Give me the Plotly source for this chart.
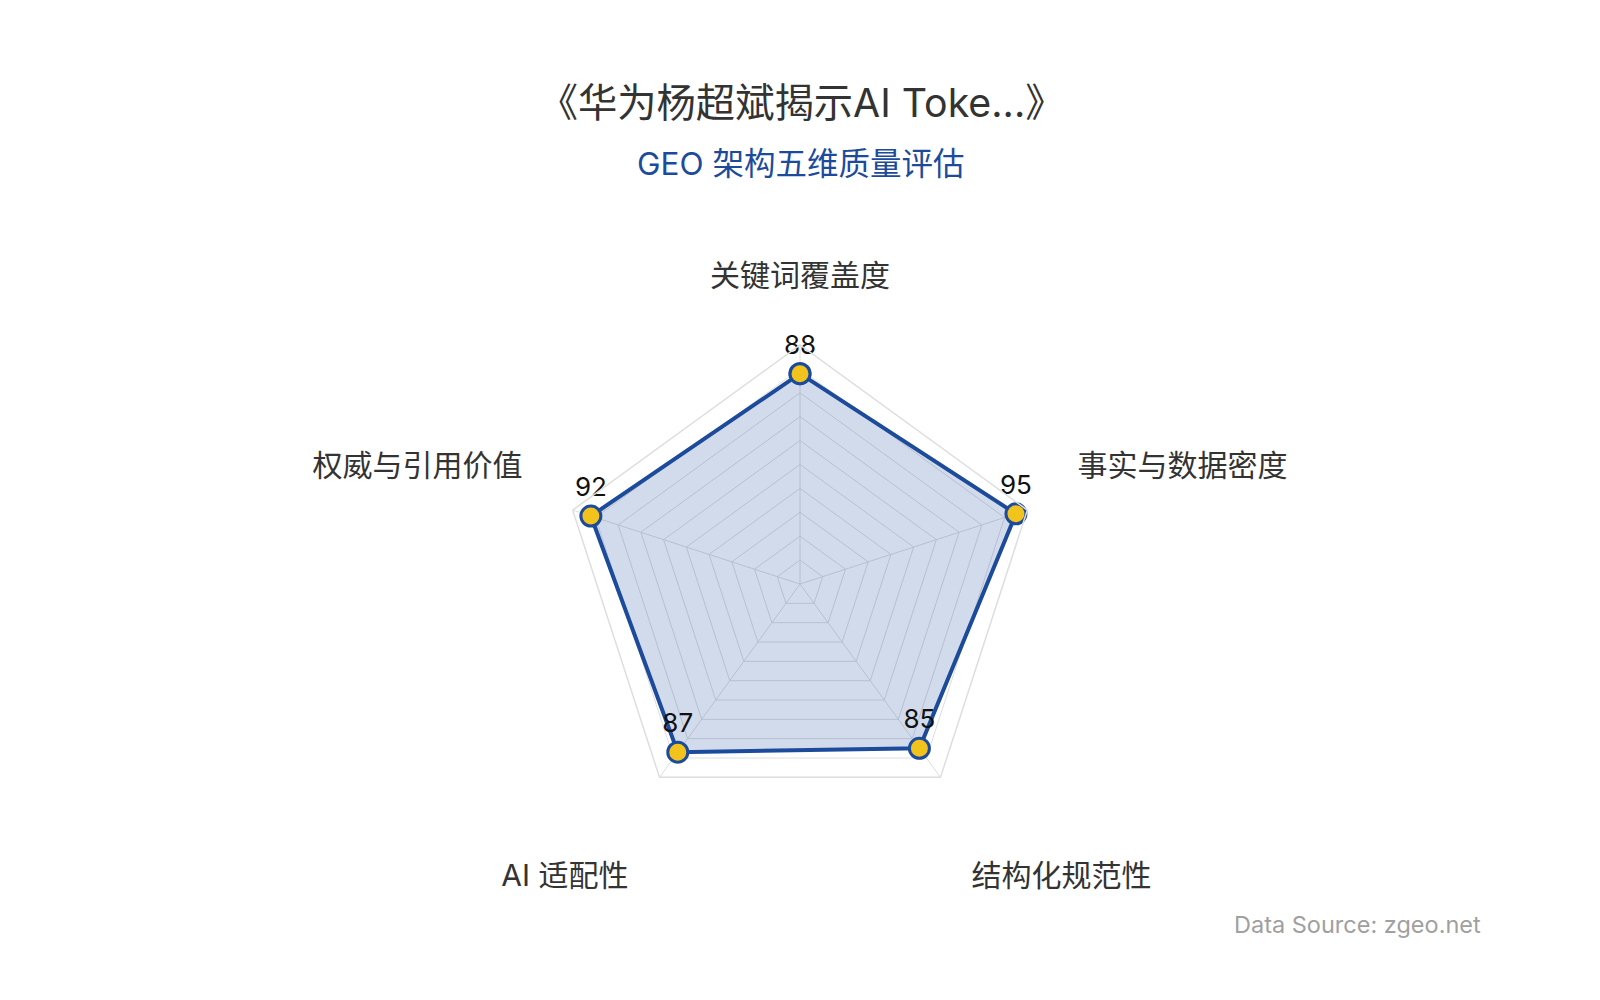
import plotly.graph_objects as go

# Radar dimensions (clockwise from the top) and their scores
dimensions = ['关键词覆盖度', '事实与数据密度', '结构化规范性', 'AI 适配性', '权威与引用价值']
scores = [88, 95, 85, 87, 92]

title_text = '《华为杨超斌揭示AI Toke...》'
subtitle_text = 'GEO 架构五维质量评估'
source_text = 'Data Source: zgeo.net'

BLUE = '#1d4b9c'
YELLOW = '#f2c31c'
GRID = '#dedede'
FONT = 'Inter, "Noto Sans CJK SC", sans-serif'

# side names sit a little higher, bottom names a little lower (blank line trick)
name_text = [
    dimensions[0],
    dimensions[1] + '<br> ',
    ' <br>' + dimensions[2],
    ' <br>' + dimensions[3],
    dimensions[4] + '<br> ',
]

# close the polygon by repeating the first point
theta = dimensions + dimensions[:1]
r = scores + scores[:1]
labels = [str(s) for s in scores] + ['']

fig = go.Figure()
fig.add_trace(go.Scatterpolar(
    r=r,
    theta=theta,
    mode='lines+markers+text',
    fill='toself',
    fillcolor='rgba(29,75,156,0.2)',
    line=dict(color=BLUE, width=4),
    marker=dict(size=20, color=YELLOW, line=dict(color=BLUE, width=3)),
    text=labels,
    textposition='top center',
    textfont=dict(size=26, color='#111111', family=FONT),
    cliponaxis=False,
    hoverinfo='skip',
    showlegend=False,
))

fig.update_layout(
    width=1600,
    height=1000,
    paper_bgcolor='white',
    plot_bgcolor='white',
    margin=dict(l=0, r=0, t=0, b=0),
    font=dict(family=FONT),
    title=dict(
        text=title_text,
        font=dict(size=39.3, color='#333333', family=FONT),
        x=0.496, xanchor='center',
        y=0.905, yanchor='middle', yref='container',
    ),
    polar=dict(
        domain=dict(x=[0, 0.99], y=[0.185, 0.663]),
        bgcolor='rgba(0,0,0,0)',
        gridshape='linear',
        radialaxis=dict(
            range=[0, 100], dtick=10, showticklabels=False, ticks='',
            showline=False, gridcolor=GRID, gridwidth=1.2,
        ),
        angularaxis=dict(
            rotation=90, direction='clockwise',
            tickmode='array', tickvals=dimensions, ticktext=name_text,
            ticks='outside', ticklen=46, tickcolor='rgba(0,0,0,0)',
            tickfont=dict(size=30, color='#333333', family=FONT),
            linecolor=GRID, linewidth=1.5, gridcolor=GRID, gridwidth=1.2,
        ),
    ),
    annotations=[
        dict(
            text=subtitle_text, xref='paper', yref='paper',
            x=0.495, y=0.845, xanchor='center', yanchor='middle',
            showarrow=False, font=dict(size=31.5, color=BLUE, family=FONT),
        ),
        dict(
            text=source_text, xref='paper', yref='paper',
            x=0.922, y=0.084, xanchor='right', yanchor='middle',
            showarrow=False, font=dict(size=23.5, color='#a0a0a0', family=FONT),
        ),
    ],
)

fig.write_html('out.html')
